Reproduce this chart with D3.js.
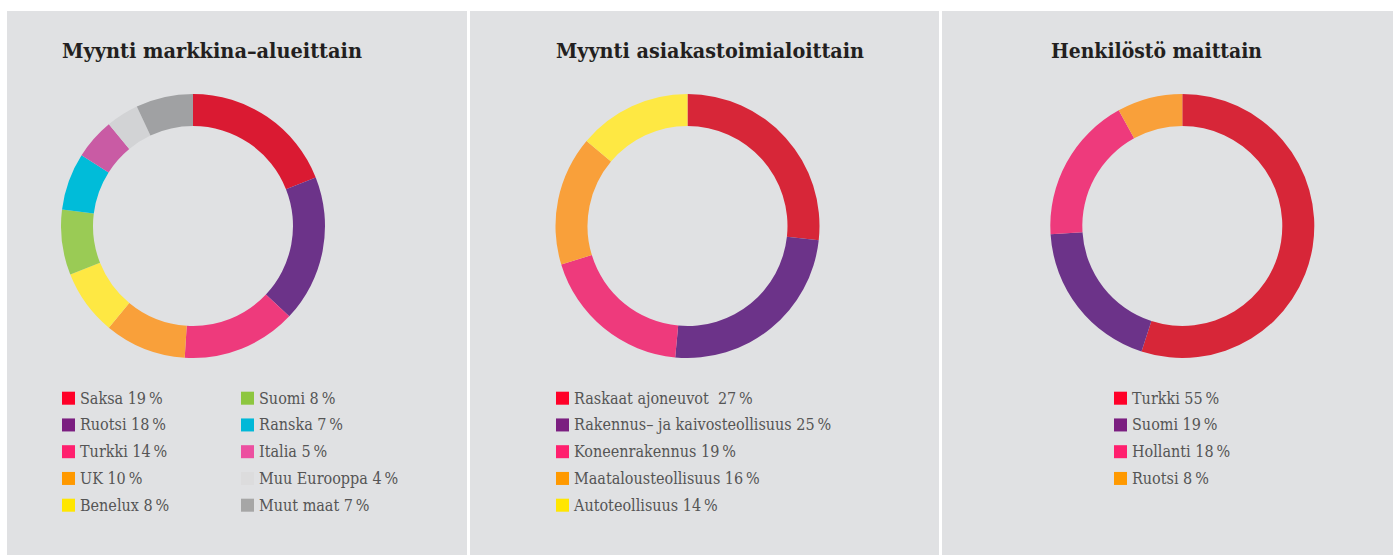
<!DOCTYPE html>
<html>
<head>
<meta charset="utf-8">
<script src="https://cdn.jsdelivr.net/npm/d3@7"></script>
<style>
  body { margin: 0; background: #fff; }
  svg { display: block; }
</style>
</head>
<body>
<div id="chart"></div>
<script>
// chart data
const titles = ["Myynti markkina–alueittain", "Myynti asiakastoimialoittain", "Henkilöstö maittain"];

const marketLabels = ["Saksa", "Ruotsi", "Turkki", "UK", "Benelux", "Suomi", "Ranska", "Italia", "Muu Eurooppa", "Muut maat"];
const marketValues = [19, 18, 14, 10, 8, 8, 7, 5, 4, 7];

const industryLabels = ["Raskaat ajoneuvot ", "Rakennus– ja kaivosteollisuus", "Koneenrakennus", "Maatalousteollisuus", "Autoteollisuus"];
const industryValues = [27, 25, 19, 16, 14];

const staffLabels = ["Turkki", "Suomi", "Hollanti", "Ruotsi"];
const staffValues = [55, 19, 18, 8];

// ring colours and the brighter legend swatch colours
const marketRing = ["#da1a32", "#6c3389", "#ee3a7c", "#f9a03a", "#fee843", "#9acb55", "#00bcd9", "#c95ba4", "#d2d3d5", "#a0a1a3"];
const marketSwatch = ["#ff0028", "#7b1e80", "#ff1f6e", "#ff9900", "#ffe600", "#8dc63f", "#00b8d8", "#ec4fa0", "#dcdcdd", "#a6a6a6"];
const industryRing = ["#d72638", "#6c3389", "#ee3a7c", "#f9a03a", "#fee843"];
const industrySwatch = ["#ff0028", "#7b1e80", "#ff1f6e", "#ff9900", "#ffe600"];
const staffRing = ["#d72638", "#6c3389", "#ee3a7c", "#f9a03a"];
const staffSwatch = ["#ff0028", "#7b1e80", "#ff1f6e", "#ff9900"];

const width = 1393;
const height = 555;

const svg = d3.select("#chart")
    .append("svg")
    .attr("width", width)
    .attr("height", height);

// panel layout
const panels = [
    { x: 7, w: 460, cx: 193, titleX: 62, titleW: 300, legendX: 62, colGap: 179,
      labels: marketLabels, values: marketValues, ring: marketRing, swatch: marketSwatch, perCol: 5 },
    { x: 470, w: 469, cx: 687.5, titleX: 556, titleW: 308, legendX: 556, colGap: 0,
      labels: industryLabels, values: industryValues, ring: industryRing, swatch: industrySwatch, perCol: 5 },
    { x: 942, w: 451, cx: 1182.3, titleX: 1051, titleW: 211, legendX: 1114, colGap: 0,
      labels: staffLabels, values: staffValues, ring: staffRing, swatch: staffSwatch, perCol: 5 }
];

const cy = 226;
const outerR = 132;
const innerR = 100;

const pie = d3.pie().sort(null).value(d => d);
const arc = d3.arc().innerRadius(innerR).outerRadius(outerR);

panels.forEach((p, i) => {
    // grey panel background
    svg.append("rect")
        .attr("x", p.x)
        .attr("y", 11)
        .attr("width", p.w)
        .attr("height", height - 11)
        .attr("fill", "#e0e1e3");

    // title
    svg.append("text")
        .attr("x", p.titleX)
        .attr("y", 58)
        .attr("textLength", p.titleW)
        .attr("lengthAdjust", "spacingAndGlyphs")
        .style("font-family", "'DejaVu Serif Condensed', 'DejaVu Serif', serif")
        .style("font-weight", "bold")
        .style("font-size", "20px")
        .style("fill", "#231f20")
        .text(titles[i]);

    // donut
    const g = svg.append("g")
        .attr("transform", "translate(" + p.cx + "," + cy + ")");

    g.selectAll("path")
        .data(pie(p.values))
        .enter()
        .append("path")
        .attr("d", arc)
        .attr("fill", (d, j) => p.ring[j]);

    // legend
    const items = p.labels.map((l, j) => ({ label: l, value: p.values[j], color: p.swatch[j], idx: j }));
    const leg = svg.append("g");
    const item = leg.selectAll("g")
        .data(items)
        .enter()
        .append("g")
        .attr("transform", d => {
            const col = Math.floor(d.idx / p.perCol);
            const row = d.idx % p.perCol;
            return "translate(" + (p.legendX + col * p.colGap) + "," + (391.7 + row * 26.75) + ")";
        });

    item.append("rect")
        .attr("width", 13)
        .attr("height", 13)
        .attr("fill", d => d.color);

    item.append("text")
        .attr("x", 18)
        .attr("y", 12)
        .style("font-family", "'DejaVu Serif Condensed', 'DejaVu Serif', serif")
        .style("font-size", "16px")
        .style("fill", "#555555")
        .style("white-space", "pre")
        .text(d => d.label + " " + d.value + "\u202F%");
});
</script>
</body>
</html>
